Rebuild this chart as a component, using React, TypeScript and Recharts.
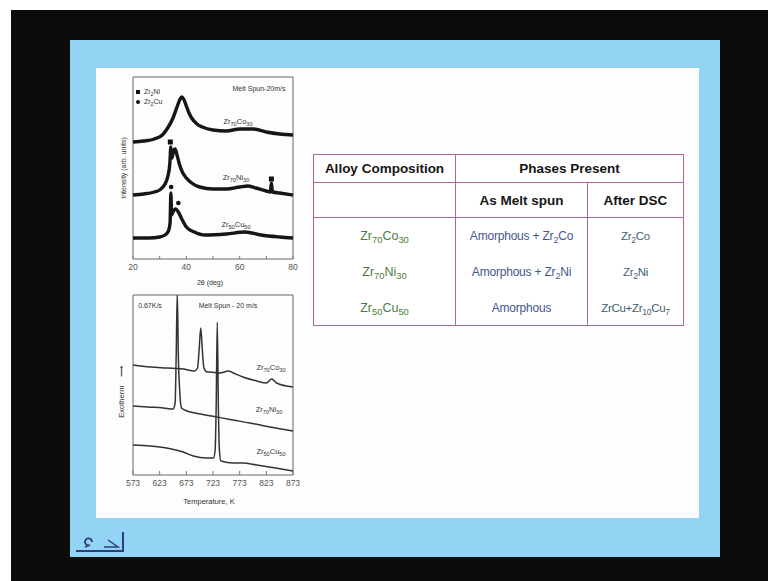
import React from 'react';
import { ComposedChart, Line, Scatter, XAxis, YAxis, ReferenceArea } from 'recharts';

// XRD patterns, 2theta (deg) vs intensity (arb. units)
const xrdTicks = [20, 30, 40, 50, 60, 70, 80];
const xrdTickLabels = ['20', '', '40', '', '60', '', '80'];
const xrdCo: [number, number][] = [
  [20, 117], [24, 118], [28, 120], [31, 124], [33, 131], [35, 141], [36.5, 152], [37.5, 159],
  [38.3, 162], [39, 160], [40, 153], [41, 146], [42, 141], [44, 135], [46, 132], [50, 129],
  [55, 128], [60, 130], [65, 130], [70, 127], [75, 125], [80, 124],
];
const xrdNi: [number, number][] = [
  [20, 64], [24, 65], [28, 67], [30, 69], [32, 75], [33, 82], [33.8, 95], [34.2, 112], [34.6, 101],
  [35.2, 108], [35.8, 110], [36.5, 104], [37.5, 94], [38.5, 87], [40, 81], [42, 76], [45, 72],
  [50, 70], [55, 70], [60, 72], [63, 73], [66, 71], [70, 68], [71.5, 67], [71.9, 76], [72.3, 67],
  [75, 66], [80, 64],
];
const xrdCu: [number, number][] = [
  [20, 21], [26, 21], [30, 22], [32, 24], [33.3, 28], [33.9, 36], [34.2, 66], [34.5, 44], [35, 47],
  [36, 50], [37, 47], [38.5, 39], [40, 32], [43, 27], [47, 24], [55, 25], [62, 27], [68, 24],
  [75, 22], [80, 21],
];
const zr2NiPeaks: [number, number][] = [[34.0, 117], [71.9, 80]];
const zr2CuPeaks: [number, number][] = [[34.3, 72], [37.0, 56]];

// DSC traces, temperature (K) vs heat flow (arb.)
const dscTicks = [573, 623, 673, 723, 773, 823, 873];
const dscCo: [number, number][] = [
  [573, 110], [605, 108], [636, 107], [667, 106], [688, 104], [694, 107], [697, 125], [700, 147],
  [703, 125], [706, 107], [712, 103], [717, 103], [736, 102], [752, 104], [761, 102], [779, 98],
  [805, 94], [823, 92], [833, 96], [842, 92], [873, 88],
];
const dscNi: [number, number][] = [
  [573, 69], [600, 68], [630, 67], [648, 66], [652, 72], [654, 120], [656, 182], [658, 120],
  [661, 80], [664, 67], [670, 65], [700, 61], [730, 58], [760, 55], [792, 52], [830, 48], [873, 44],
];
const dscCu: [number, number][] = [
  [573, 30], [605, 29], [636, 27], [667, 23], [686, 19], [711, 17], [724, 17], [727, 25], [729, 70],
  [731, 153], [733, 70], [735, 25], [738, 14], [761, 12], [779, 12], [805, 10], [840, 7], [873, 4],
];

// table
const alloys = ['Zr70Co30', 'Zr70Ni30', 'Zr50Cu50'];
const asMeltSpun = ['Amorphous + Zr2Co', 'Amorphous + Zr2Ni', 'Amorphous'];
const afterDsc = ['Zr2Co', 'Zr2Ni', 'ZrCu+Zr10Cu7'];

const pts = (a: [number, number][]) => a.map(([x, y]) => ({ x, y }));

const FONT = '"Liberation Sans", Arial, sans-serif';

const chem = (s: string) =>
  s.split(/(\d+)/).map((p, i) =>
    /^\d+$/.test(p) ? (
      <sub key={i} style={{ fontSize: '0.75em', verticalAlign: '-0.3em', lineHeight: 0 }}>{p}</sub>
    ) : (
      <span key={i}>{p}</span>
    )
  );

const Lbl = ({ x, y, size = 7, rot = 0, color = '#333', children }: any) => (
  <div
    style={{
      position: 'absolute', left: x, top: y, fontSize: size, lineHeight: 1, color,
      whiteSpace: 'nowrap', fontFamily: FONT,
      transform: `translate(-50%,-50%) rotate(${rot}deg)`,
    }}
  >
    {children}
  </div>
);

const square = (p: any) => <rect x={p.cx - 2.5} y={p.cy - 2.5} width={5} height={5} fill="#111" />;
const circle = (p: any) => <circle cx={p.cx} cy={p.cy} r={2.3} fill="#111" />;

const tickStyle = { fontSize: 8.5, fill: '#555', fontFamily: FONT };

function XrdChart() {
  return (
    <div style={{ position: 'absolute', left: 103, top: 67 }}>
      <ComposedChart width={200} height={222} margin={{ top: 10, right: 10, left: 30, bottom: 0 }}>
        <XAxis
          type="number" dataKey="x" domain={[20, 80]} ticks={xrdTicks}
          tickFormatter={(v: number, i: number) => xrdTickLabels[i]}
          axisLine={false} tickSize={-3} tickMargin={8} tick={tickStyle}
          tickLine={{ stroke: '#777' }} height={30}
        />
        <YAxis type="number" dataKey="y" domain={[0, 182]} hide />
        <ReferenceArea x1={20} x2={80} y1={0} y2={182} fill="none" stroke="#666" strokeWidth={1} />
        <Line data={pts(xrdCo)} dataKey="y" type="monotone" stroke="#161616" strokeWidth={3.4} dot={false} isAnimationActive={false} />
        <Line data={pts(xrdNi)} dataKey="y" type="monotone" stroke="#161616" strokeWidth={3.4} dot={false} isAnimationActive={false} />
        <Line data={pts(xrdCu)} dataKey="y" type="monotone" stroke="#161616" strokeWidth={3.4} dot={false} isAnimationActive={false} />
        <Scatter data={pts(zr2NiPeaks)} dataKey="y" shape={square} isAnimationActive={false} />
        <Scatter data={pts(zr2CuPeaks)} dataKey="y" shape={circle} isAnimationActive={false} />
      </ComposedChart>
    </div>
  );
}

function DscChart() {
  return (
    <div style={{ position: 'absolute', left: 103, top: 285 }}>
      <ComposedChart width={200} height={220} margin={{ top: 10, right: 10, left: 30, bottom: 0 }}>
        <XAxis
          type="number" dataKey="x" domain={[573, 873]} ticks={dscTicks}
          axisLine={false} tickSize={-4} tickMargin={9} tick={tickStyle}
          tickLine={{ stroke: '#777' }} height={30}
        />
        <YAxis type="number" dataKey="y" domain={[0, 180]} hide allowDataOverflow />
        <ReferenceArea x1={573} x2={873} y1={0} y2={180} fill="none" stroke="#666" strokeWidth={1} />
        <Line data={pts(dscCo)} dataKey="y" type="monotone" stroke="#333" strokeWidth={1.5} dot={false} isAnimationActive={false} />
        <Line data={pts(dscNi)} dataKey="y" type="monotone" stroke="#333" strokeWidth={1.5} dot={false} isAnimationActive={false} />
        <Line data={pts(dscCu)} dataKey="y" type="monotone" stroke="#333" strokeWidth={1.5} dot={false} isAnimationActive={false} />
      </ComposedChart>
    </div>
  );
}

const LINE = '1.5px solid #a8689a';
const cell = (extra: React.CSSProperties = {}): React.CSSProperties => ({
  padding: 0, textAlign: 'center', verticalAlign: 'middle', whiteSpace: 'nowrap', ...extra,
});
const head = { fontWeight: 'bold' as const, fontSize: 13.5, color: '#151515' };

function PhaseTable() {
  return (
    <table
      style={{
        position: 'absolute', left: 313, top: 154, width: 370, height: 172, tableLayout: 'fixed',
        borderCollapse: 'collapse', border: LINE, fontFamily: FONT, background: '#fff',
      }}
    >
      <colgroup>
        <col style={{ width: 142 }} />
        <col style={{ width: 132 }} />
        <col style={{ width: 96 }} />
      </colgroup>
      <tbody>
        <tr style={{ height: 28 }}>
          <td style={cell({ borderRight: LINE, borderBottom: LINE, ...head })}>Alloy Composition</td>
          <td colSpan={2} style={cell({ borderBottom: LINE, ...head })}>Phases Present</td>
        </tr>
        <tr style={{ height: 35 }}>
          <td style={cell({ borderRight: LINE, borderBottom: LINE })} />
          <td style={cell({ borderRight: LINE, borderBottom: LINE, ...head })}>As Melt spun</td>
          <td style={cell({ borderBottom: LINE, ...head })}>After DSC</td>
        </tr>
        {alloys.map((a, i) => (
          <tr key={a} style={{ height: i === 1 ? 37 : 35 }}>
            <td style={cell({ borderRight: LINE, fontSize: 12.5, color: '#4b7d3c' })}>{chem(a)}</td>
            <td style={cell({ borderRight: LINE, fontSize: 12, color: '#47558e', letterSpacing: -0.2 })}>{chem(asMeltSpun[i])}</td>
            <td style={cell({ fontSize: 11.5, color: '#3f5d70', letterSpacing: -0.3 })}>{chem(afterDsc[i])}</td>
          </tr>
        ))}
      </tbody>
    </table>
  );
}

export default function App() {
  return (
    <div style={{ position: 'relative', width: 768, height: 581, overflow: 'hidden', fontFamily: FONT }}>
      <style>{'body{margin:0;overflow:hidden;}'}</style>
      <div style={{ position: 'absolute', left: 11, top: 10, width: 757, height: 571, background: '#0c0c0c' }} />
      <div style={{ position: 'absolute', left: 70, top: 40, width: 650, height: 517, background: '#93d4f4' }} />
      <div style={{ position: 'absolute', left: 96, top: 68, width: 603, height: 450, background: '#fdfdfd' }} />

      <XrdChart />
      <div style={{ position: 'absolute', left: 136, top: 87, fontSize: 7, lineHeight: '10px', color: '#333', fontFamily: FONT }}>
        <div><span style={{ display: 'inline-block', width: 4, height: 4, background: '#111', marginRight: 4 }} />{chem('Zr2Ni')}</div>
        <div><span style={{ display: 'inline-block', width: 4, height: 4, borderRadius: 2, background: '#111', marginRight: 4 }} />{chem('Zr2Cu')}</div>
      </div>
      <Lbl x={259} y={88} size={7}>Melt Spun-20m/s</Lbl>
      <Lbl x={238} y={122} size={7.5}>{chem(alloys[0])}</Lbl>
      <Lbl x={236} y={178} size={7.5}>{chem(alloys[1])}</Lbl>
      <Lbl x={236} y={225} size={7.5}>{chem(alloys[2])}</Lbl>
      <Lbl x={123} y={168} size={7} rot={-90}>Intensity (arb. units)</Lbl>
      <Lbl x={210} y={282} size={7}>2θ (deg)</Lbl>

      <DscChart />
      <Lbl x={150} y={305} size={7}>0.67K/s</Lbl>
      <Lbl x={228} y={305} size={7}>Melt Spun - 20 m/s</Lbl>
      <Lbl x={271} y={368} size={7.5}>{chem(alloys[0])}</Lbl>
      <Lbl x={269} y={410} size={7.5}>{chem(alloys[1])}</Lbl>
      <Lbl x={271} y={452} size={7.5}>{chem(alloys[2])}</Lbl>
      <Lbl x={122} y={392} size={7.5} rot={-90}>Exotherm &nbsp;&nbsp;&nbsp;⟶</Lbl>
      <Lbl x={209} y={502} size={7.5}>Temperature, K</Lbl>

      <PhaseTable />

      <svg style={{ position: 'absolute', left: 74, top: 528 }} width={54} height={28}>
        <path d="M2 23 H49 V4" fill="none" stroke="#2a3f7a" strokeWidth={2} />
        <path d="M34 12 L44 19 H30" fill="none" stroke="#2a3f7a" strokeWidth={1.5} />
        <path d="M18 14 a3.5 3.5 0 1 0 -2 3 L11 19" fill="none" stroke="#2a3f7a" strokeWidth={1.8} />
      </svg>
    </div>
  );
}
